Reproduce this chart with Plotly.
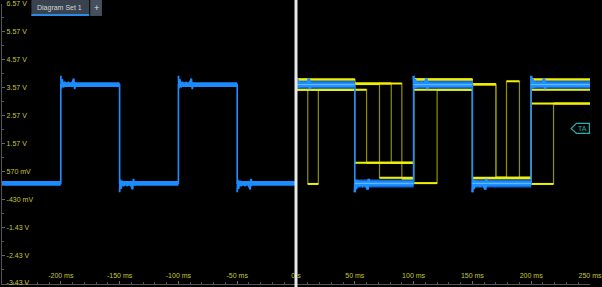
import plotly.graph_objects as go

# ---------------- data ----------------
x_range_ms = [-250, 250]
y_range_v = [-3.466, 6.57]

ytick_vals = [6.57, 5.57, 4.57, 3.57, 2.57, 1.57, 0.57, -0.43, -1.43, -2.43, -3.43]
ytick_text = ["6.57 V", "5.57 V", "4.57 V", "3.57 V", "2.57 V", "1.57 V",
              "570 mV", "-430 mV", "-1.43 V", "-2.43 V", "-3.43 V"]
xtick_vals = [-200, -150, -100, -50, 0, 50, 100, 150, 200, 250]
xtick_text = ["-200 ms", "-150 ms", "-100 ms", "-50 ms", "0 s",
              "50 ms", "100 ms", "150 ms", "200 ms", "250 ms"]

# blue channel (square wave): edge times and the level held after each edge
blue_times_ms = [-250, -200, -150, -100, -50, 0, 50, 100, 150, 200, 250]
blue_levels_v = [0.14, 3.68, 0.14, 3.68, 0.14, 3.68, 0.14, 3.68, 0.14, 3.68]
# ringing seen after each edge (ms after edge, volts of overshoot for a rising edge)
ring_after_ms = [0.0, 0.5, 1.2, 2.2, 3.4, 4.8, 6.5, 8.5, 11.0, 11.8, 12.6, 15.0]
ring_offset_v = [0.32, -0.14, 0.20, -0.10, 0.10, -0.06, 0.07, -0.04, 0.22, -0.16, 0.04, 0.0]

# yellow channel (right half, several persisted acquisitions)
yellow_acq1_t = [0, 10, 19, 60, 100, 120, 150, 170, 200, 219, 250]
yellow_acq1_v = [3.86, 0.12, 3.50, 0.88, 0.15, 3.50, 3.70, 0.34, 0.12, 3.00]
yellow_acq2_t = [0, 50, 90, 100, 150, 179, 190, 200, 250]
yellow_acq2_v = [3.86, 3.72, 0.30, 3.86, 0.34, 3.80, 0.34, 3.86]
yellow_acq3_t = [0, 50, 71, 100, 150, 200, 250]
yellow_acq3_v = [3.50, 3.70, 0.34, 3.50, 0.32, 3.00]
yellow_acq4_t = [0, 50, 81, 100, 150, 170, 200, 250]
yellow_acq4_v = [3.86, 3.72, 0.88, 3.86, 3.68, 0.34, 3.50]
yellow_acq5_t = [0, 50, 100, 150, 200, 250]
yellow_acq5_v = [3.50, 0.88, 3.86, 0.32, 3.86]

trigger_level_v = 2.11

# ---------------- helpers ----------------
def step_xy(times, levels):
    xs, ys = [], []
    for i, lv in enumerate(levels):
        xs += [times[i], times[i + 1]]
        ys += [lv, lv]
    return xs, ys


def flat_xy(times, levels, tmin=None, tmax=None):
    xs, ys = [], []
    for i, lv in enumerate(levels):
        t0, t1 = times[i], times[i + 1]
        if tmin is not None and t1 <= tmin:
            continue
        if tmax is not None and t0 >= tmax:
            continue
        xs += [t0, t1, None]
        ys += [lv, lv, None]
    return xs, ys


def ring_xy(times, levels, tmin=None, tmax=None):
    xs, ys = [], []
    for i in range(1, len(levels)):
        t0, lv = times[i], levels[i]
        if tmin is not None and t0 < tmin:
            continue
        if tmax is not None and t0 >= tmax:
            continue
        sgn = 1 if lv > levels[i - 1] else -1
        for dt, dv in zip(ring_after_ms, ring_offset_v):
            xs.append(t0 + dt)
            ys.append(lv + sgn * dv)
        xs.append(None)
        ys.append(None)
    return xs, ys


fig = go.Figure()

# yellow acquisitions (drawn behind blue)
yellow_sets = [(yellow_acq1_t, yellow_acq1_v), (yellow_acq2_t, yellow_acq2_v),
               (yellow_acq3_t, yellow_acq3_v), (yellow_acq4_t, yellow_acq4_v),
               (yellow_acq5_t, yellow_acq5_v)]
for t, v in yellow_sets:
    sx, sy = step_xy(t, v)
    fig.add_trace(go.Scatter(x=sx, y=sy, mode="lines",
                             line=dict(color="#8f8f00", width=1.2), hoverinfo="skip"))
for t, v in yellow_sets:
    fx, fy = flat_xy(t, v)
    fig.add_trace(go.Scatter(x=fx, y=fy, mode="lines",
                             line=dict(color="#f0f000", width=2.0), hoverinfo="skip"))

# blue: thin edges
bx, by = step_xy(blue_times_ms, blue_levels_v)
fig.add_trace(go.Scatter(x=bx, y=by, mode="lines",
                         line=dict(color="#1e8fff", width=1.6), hoverinfo="skip"))
# blue left half: plain band
lx, ly = flat_xy(blue_times_ms, blue_levels_v, tmax=0)
fig.add_trace(go.Scatter(x=lx, y=ly, mode="lines",
                         line=dict(color="#1a8cff", width=4.8), hoverinfo="skip"))
rlx, rly = ring_xy(blue_times_ms, blue_levels_v, tmax=0)
fig.add_trace(go.Scatter(x=rlx, y=rly, mode="lines",
                         line=dict(color="#1a8cff", width=1.8), hoverinfo="skip"))
# blue right half: persisted thicker band
rx, ry = flat_xy(blue_times_ms, blue_levels_v, tmin=0)
fig.add_trace(go.Scatter(x=rx, y=ry, mode="lines",
                         line=dict(color="#1468da", width=8), hoverinfo="skip"))
rrx, rry = ring_xy(blue_times_ms, blue_levels_v, tmin=0)
fig.add_trace(go.Scatter(x=rrx, y=rry, mode="lines",
                         line=dict(color="#1e90ff", width=2.5), hoverinfo="skip"))
fig.add_trace(go.Scatter(x=rx, y=ry, mode="lines",
                         line=dict(color="#1e90ff", width=4.5), hoverinfo="skip"))
fig.add_trace(go.Scatter(x=rx, y=ry, mode="lines",
                         line=dict(color="#6cbcff", width=1.0), hoverinfo="skip"))

W, H = 602, 287
ML, MR, MT, MB = 2, 0, 3, 3
PW, PH = W - ML - MR, H - MT - MB


def px(xp):
    return (xp - ML) / PW


def py(yp):
    return (H - MB - yp) / PH


label_font = dict(color="#c8c82a", size=7,
                  family="Liberation Sans Narrow, Liberation Sans, Arial, sans-serif")

shapes = [
    # divider between the two diagram halves
    dict(type="line", xref="x", yref="paper", x0=0, x1=0, y0=-0.02, y1=1.02,
         line=dict(color="#e8e8e8", width=3), layer="above"),
    # tab
    dict(type="rect", xref="paper", yref="paper", x0=px(32), x1=px(91), y0=py(15), y1=py(-1),
         fillcolor="#39434f", line=dict(width=0), layer="above"),
    dict(type="rect", xref="paper", yref="paper", x0=px(92), x1=px(104), y0=py(15), y1=py(-1),
         fillcolor="#46505c", line=dict(width=0), layer="above"),
    dict(type="line", xref="paper", yref="paper", x0=px(32), x1=px(91), y0=py(14), y1=py(14),
         line=dict(color="#2a8be6", width=2), layer="above"),
    # trigger level marker
    dict(type="path", xref="x", yref="y",
         path=f"M 234,{trigger_level_v} L 238.5,{trigger_level_v + 0.18} L 249.5,{trigger_level_v + 0.18} "
              f"L 249.5,{trigger_level_v - 0.18} L 238.5,{trigger_level_v - 0.18} Z",
         fillcolor="black", line=dict(color="#1fb4b4", width=1.2), layer="above"),
]

annotations = [
    dict(text="Diagram Set 1", xref="paper", yref="paper", x=px(36), y=py(7),
         xanchor="left", yanchor="middle", showarrow=False,
         font=dict(color="#d6d6d6", size=7, family="Liberation Sans, Arial, sans-serif")),
    dict(text="+", xref="paper", yref="paper", x=px(98), y=py(7),
         xanchor="center", yanchor="middle", showarrow=False,
         font=dict(color="#e0e0e0", size=9, family="Liberation Sans, Arial, sans-serif")),
    dict(text="TA", xref="x", yref="y", x=243.5, y=trigger_level_v,
         xanchor="center", yanchor="middle", showarrow=False,
         font=dict(color="#1fb4b4", size=7, family="Liberation Sans, Arial, sans-serif")),
]

fig.update_layout(
    width=W, height=H,
    margin=dict(l=ML, r=MR, t=MT, b=MB, pad=0),
    paper_bgcolor="black", plot_bgcolor="black",
    showlegend=False,
    shapes=shapes, annotations=annotations,
    xaxis=dict(range=x_range_ms, showgrid=False, zeroline=False,
               showline=True, linecolor="#555555", linewidth=1,
               ticks="inside", ticklen=3, tickcolor="#666666",
               tickmode="array", tickvals=xtick_vals, ticktext=xtick_text,
               ticklabelposition="inside", ticklabeloverflow="allow",
               tickfont=label_font,
               minor=dict(tickmode="linear", tick0=0, dtick=10, ticks="inside",
                          ticklen=2, tickcolor="#555555", showgrid=False)),
    yaxis=dict(range=y_range_v, showgrid=False, zeroline=False,
               showline=True, linecolor="#555555", linewidth=1,
               ticks="inside", ticklen=3, tickcolor="#666666",
               tickmode="array", tickvals=ytick_vals, ticktext=ytick_text,
               ticklabelposition="inside", ticklabeloverflow="allow",
               tickfont=label_font,
               minor=dict(tickmode="linear", tick0=0.07, dtick=0.5, ticks="inside",
                          ticklen=2, tickcolor="#555555", showgrid=False)),
)

fig.write_html("out.html")
